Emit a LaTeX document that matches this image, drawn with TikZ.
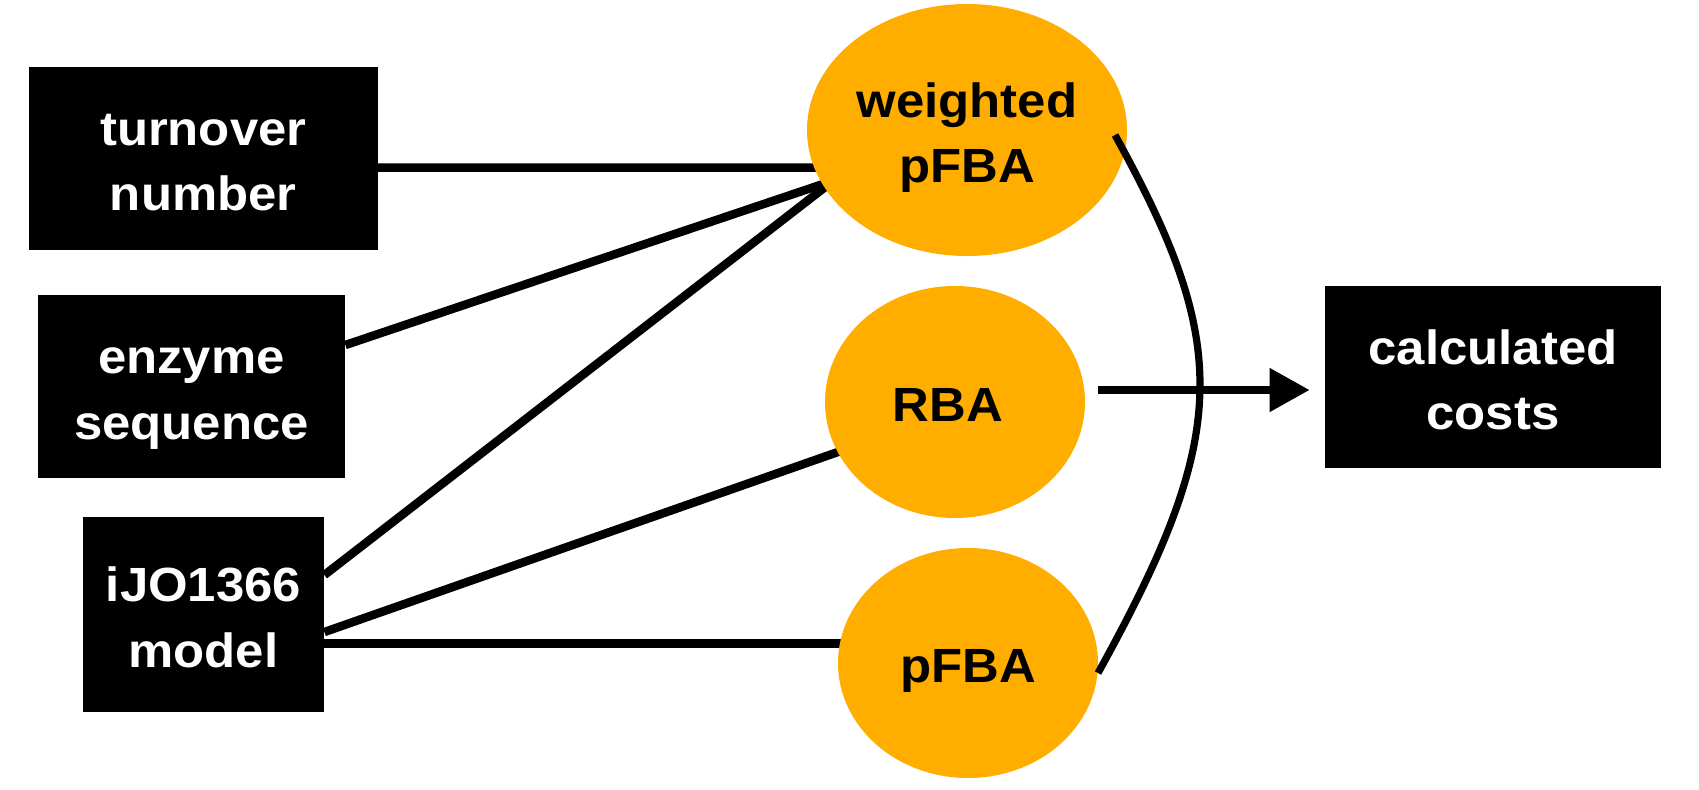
\documentclass[tikz,border=0pt]{standalone}
\usepackage{fontspec}
\setmainfont{Liberation Sans}[FakeStretch=1.06]
\usetikzlibrary{arrows.meta,calc,backgrounds,shapes.geometric}
\definecolor{nodeorange}{RGB}{255,174,0}
\newcommand{\lstr}{\rule[-6.5pt]{0pt}{32.75pt}}
\begin{document}
\begin{tikzpicture}[x=0.5pt,y=-0.5pt,
  lbl/.style={font=\fontsize{24pt}{32.75pt}\selectfont\bfseries, align=center, inner sep=0pt},
  blackbox/.style={rectangle, fill=black, text=white, lbl},
  method/.style={ellipse, fill=nodeorange, text=black, lbl},
  conn/.style={line width=4.25pt, black},
  curvecon/.style={line width=3.6pt, black},
  arrowcon/.style={line width=4pt, black, -{Triangle[length=20pt,width=21pt]}}]
\useasboundingbox (0,0) rectangle (1699,789);
% input boxes
\node[blackbox, minimum width=174.5pt, minimum height=91.65pt] (tn) at (203.25,158.35) {\lstr turnover\\\lstr number};
\node[blackbox, minimum width=153.5pt, minimum height=91.5pt] (es) at (191.5,386.5) {\lstr enzyme\\\lstr sequence};
\node[blackbox, minimum width=120.5pt, minimum height=97.5pt] (ij) at (203.5,614.5) {\lstr iJO1366\\\lstr model};
\node[blackbox, minimum width=168pt, minimum height=91pt] (cc) at (1493,377) {\lstr calculated\\\lstr costs};
% methods
\node[method, minimum width=160pt, minimum height=126pt] (wp) at (967,130) {\lstr weighted\\\lstr pFBA};
\node[method, minimum width=130pt, minimum height=116pt] (rba) at (955,402) {\lstr\kern-7pt RBA};
\node[method, minimum width=130pt, minimum height=115pt] (pf) at (968,663) {\lstr pFBA};
% connectors behind the ellipses
\begin{scope}[on background layer]
\fill[white] (0,0) rectangle (1699,789);
\draw[conn] ($(tn.east)+(0,9.35)$) -- ($(wp.center)+(-145,37.7)$);
\draw[conn] ($(es.east)+(0,-41.5)$) -- ($(wp.center)+(-141.3,53.1)$);
\draw[conn] ($(ij.east)+(0,-39.5)$) -- ($(wp.center)+(-138.3,54.3)$);
\draw[conn] ($(ij.east)+(0,17.5)$) -- ($(rba.center)+(-112.5,48.4)$);
\draw[conn] ($(ij.east)+(0,29)$) -- ($(pf.center)+(-123,-19.5)$);
\end{scope}
% bracket curve and result arrow
\draw[curvecon] ($(wp.center)+(148,5)$) .. controls (1231,345) and (1231,433) .. ($(pf.center)+(130,10)$);
\draw[arrowcon] ($(rba.center)+(143,-12)$) -- ($(cc.west)+(-15,13)$);
\end{tikzpicture}
\end{document}
